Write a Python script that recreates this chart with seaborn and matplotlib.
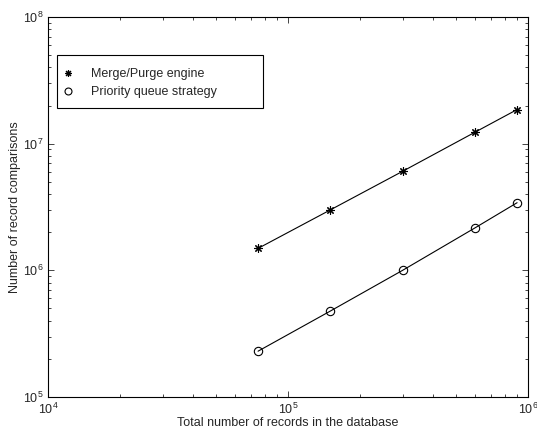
import pandas as pd
import matplotlib.pyplot as plt
import seaborn as sns
from matplotlib.lines import Line2D
from matplotlib.patches import Rectangle

# data
records = [75000, 150000, 300000, 600000, 900000]
merge_purge = [1.49e6, 3.0e6, 6.05e6, 1.23e7, 1.86e7]
priority_queue = [2.3e5, 4.77e5, 1.0e6, 2.16e6, 3.42e6]
labels = ["Merge/Purge engine", "Priority queue strategy"]

df = pd.DataFrame({
    "records": records * 2,
    "comparisons": merge_purge + priority_queue,
    "method": [labels[0]] * 5 + [labels[1]] * 5,
})

sns.set_style("ticks")
plt.rcParams["font.family"] = ["Liberation Sans", "DejaVu Sans"]
plt.rcParams["xtick.direction"] = "in"
plt.rcParams["ytick.direction"] = "in"
plt.rcParams["mathtext.fontset"] = "custom"
plt.rcParams["mathtext.rm"] = "Liberation Sans"

fig = plt.figure(figsize=(5.37, 4.32), dpi=100)
ax = fig.add_axes([0.0894, 0.081, 0.894, 0.8796])

asterisk = (8, 2, 0)
markers = {labels[0]: asterisk, labels[1]: "o"}
for lab in labels:
    sub = df[df["method"] == lab]
    sns.lineplot(data=sub, x="records", y="comparisons", ax=ax, color="black",
                 lw=0.8, marker=markers[lab], markersize=6, markerfacecolor="none",
                 markeredgecolor="black", markeredgewidth=0.8, legend=False)

ax.set_xscale("log")
ax.set_yscale("log")
ax.set_xlim(1e4, 1e6)
ax.set_ylim(1e5, 1e8)
ax.set_xlabel("Total number of records in the database", fontsize=9, labelpad=0)
ax.set_ylabel("Number of record comparisons", fontsize=9, labelpad=1)
ax.tick_params(which="both", top=True, right=True, labelsize=9, width=0.6)
ax.tick_params(which="major", length=4)
ax.tick_params(which="minor", length=2)
for s in ax.spines.values():
    s.set_linewidth(0.8)
    s.set_color("black")

# legend box drawn MATLAB-style (wide right margin)
ax.add_patch(Rectangle((0.019, 0.7605), 0.429, 0.1395, transform=ax.transAxes,
                       fill=True, facecolor="white", edgecolor="black", lw=0.8, zorder=4))
handles = [Line2D([], [], ls="none", marker=markers[l], color="black", markersize=5,
                  markerfacecolor="none", markeredgewidth=0.8) for l in labels]
leg = ax.legend(handles, labels, loc="upper left", bbox_to_anchor=(0.031, 0.866),
                fontsize=9, frameon=False, borderpad=0, handlelength=0.8,
                handletextpad=1.44, labelspacing=0.5, borderaxespad=0)
leg.set_zorder(5)

fig.savefig("out.png", dpi=100)
